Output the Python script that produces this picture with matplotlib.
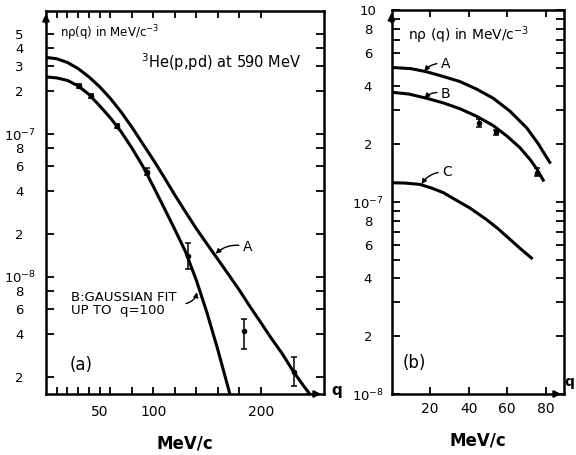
import matplotlib
matplotlib.use("Agg")
import matplotlib.pyplot as plt
from matplotlib.ticker import FixedLocator, NullLocator

plt.rcParams['font.family'] = ['DejaVu Sans']
plt.rcParams['mathtext.default'] = 'regular'

# ---- panel (a): 3He(p,pd) at 590 MeV ----
qa_A = [0, 10, 20, 30, 40, 50, 60, 70, 80, 90, 100, 110, 120, 130, 140, 150,
        160, 170, 180, 190, 200, 210, 220, 230, 240, 246]
va_A = [3.45e-7, 3.38e-7, 3.18e-7, 2.88e-7, 2.52e-7, 2.15e-7, 1.78e-7, 1.43e-7,
        1.12e-7, 8.6e-8, 6.6e-8, 5.0e-8, 3.75e-8, 2.85e-8, 2.18e-8, 1.7e-8,
        1.33e-8, 1.04e-8, 8.1e-9, 6.2e-9, 4.8e-9, 3.7e-9, 2.9e-9, 2.2e-9, 1.72e-9, 1.5e-9]

qa_B = [0, 10, 20, 30, 40, 50, 60, 70, 80, 90, 100, 110, 120, 130, 140, 150, 160, 171.4]
va_B = [2.52e-7, 2.48e-7, 2.38e-7, 2.18e-7, 1.9e-7, 1.58e-7, 1.3e-7, 1.04e-7, 8.0e-8,
        6.0e-8, 4.3e-8, 3.05e-8, 2.15e-8, 1.5e-8, 9.5e-9, 5.6e-9, 3.1e-9, 1.5e-9]

qa_pts = [30.7, 41.6, 66.4, 93.8, 132.5, 184.4, 231.3]
va_pts = [2.17e-7, 1.85e-7, 1.14e-7, 5.45e-8, 1.4e-8, 4.15e-9, 2.17e-9]
va_lo = [2.10e-7, 1.80e-7, 1.10e-7, 5.15e-8, 1.14e-8, 3.1e-9, 1.71e-9]
va_hi = [2.25e-7, 1.90e-7, 1.18e-7, 5.80e-8, 1.73e-8, 5.03e-9, 2.74e-9]

# ---- panel (b) ----
qb_A = [0, 10, 18.2, 27, 35.5, 44, 52.8, 61.5, 70.2, 76, 82.1]
vb_A = [5.02e-7, 4.95e-7, 4.77e-7, 4.5e-7, 4.24e-7, 3.88e-7, 3.47e-7, 2.97e-7,
        2.43e-7, 2.02e-7, 1.61e-7]
qb_B = [0, 9, 18.2, 27, 35.5, 44, 52.8, 60, 66.6, 72, 75.5, 78.7]
vb_B = [3.73e-7, 3.65e-7, 3.47e-7, 3.28e-7, 3.06e-7, 2.8e-7, 2.5e-7, 2.2e-7,
        1.92e-7, 1.66e-7, 1.48e-7, 1.3e-7]
qb_C = [0, 7, 14.8, 21, 26.8, 33, 40.7, 49.3, 55, 61.4, 67, 72.6]
vb_C = [1.26e-7, 1.255e-7, 1.235e-7, 1.18e-7, 1.12e-7, 1.03e-7, 9.3e-8, 8.1e-8,
        7.3e-8, 6.4e-8, 5.7e-8, 5.11e-8]

qb_pts = [45.3, 54.1, 75.5]
vb_pts = [2.57e-7, 2.31e-7, 1.42e-7]
vb_lo = [2.45e-7, 2.24e-7, 1.36e-7]
vb_hi = [2.72e-7, 2.38e-7, 1.51e-7]

a_yticks = [2e-9, 4e-9, 6e-9, 8e-9, 1e-8, 2e-8, 4e-8, 6e-8, 8e-8, 1e-7, 2e-7, 3e-7, 4e-7, 5e-7]
a_ylabels = ['2', '4', '6', '8', r'$10^{-8}$', '2', '4', '6', '8', r'$10^{-7}$', '2', '3', '4', '5']
a_xticks = [10, 20, 30, 40, 50, 60, 80, 100, 120, 140, 160, 180, 200]
a_xlabels = ['', '', '', '', '50', '', '', '100', '', '', '', '', '200']

b_yticks = [1e-8, 2e-8, 3e-8, 4e-8, 5e-8, 6e-8, 7e-8, 8e-8, 9e-8, 1e-7,
            2e-7, 3e-7, 4e-7, 5e-7, 6e-7, 7e-7, 8e-7, 9e-7, 1e-6]
b_ylabels = [r'$10^{-8}$', '2', '', '4', '', '6', '', '8', '', r'$10^{-7}$',
             '2', '', '4', '', '6', '', '8', '', '10']
b_xticks = [20, 40, 60, 80]

fig = plt.figure(figsize=(5.76, 4.55), dpi=100)
ax1 = fig.add_axes([46 / 576, 61 / 455, 278 / 576, 383 / 455])
ax2 = fig.add_axes([391.5 / 576, 61 / 455, 172.5 / 576, 384 / 455])

lw = 2.2
ax1.plot(qa_A, va_A, color='black', lw=lw)
ax1.plot(qa_B, va_B, color='black', lw=lw)
ax1.errorbar(qa_pts, va_pts,
             yerr=[[v - l for v, l in zip(va_pts, va_lo)], [h - v for v, h in zip(va_pts, va_hi)]],
             fmt='o', ms=3, color='black', ecolor='black', elinewidth=1.1, capsize=2.5, capthick=1.1)

ax2.plot(qb_A, vb_A, color='black', lw=lw)
ax2.plot(qb_B, vb_B, color='black', lw=lw)
ax2.plot(qb_C, vb_C, color='black', lw=lw)
ax2.errorbar(qb_pts, vb_pts,
             yerr=[[v - l for v, l in zip(vb_pts, vb_lo)], [h - v for v, h in zip(vb_pts, vb_hi)]],
             fmt='o', ms=3, color='black', ecolor='black', elinewidth=1.1, capsize=2.5, capthick=1.1)

for ax in (ax1, ax2):
    ax.set_yscale('log')
    for s in ax.spines.values():
        s.set_linewidth(1.8)
    ax.tick_params(which='both', direction='in', top=True, right=True, width=1.3)
    ax.yaxis.set_minor_locator(NullLocator())
    ax.xaxis.set_minor_locator(NullLocator())
    # axis arrows
    ax.annotate('', xy=(0, 1.0), xytext=(0, 0.96), xycoords='axes fraction',
                arrowprops=dict(arrowstyle='-|>', color='black', lw=1.5, mutation_scale=10))
    ax.annotate('', xy=(1.0, 0), xytext=(0.93, 0), xycoords='axes fraction',
                arrowprops=dict(arrowstyle='-|>', color='black', lw=1.5, mutation_scale=10))
    ax.set_xlabel('MeV/c', fontsize=12, fontweight='bold', labelpad=11)

ax1.set_xlim(0, 259)
ax1.set_ylim(1.51e-9, 7.3e-7)
ax1.yaxis.set_major_locator(FixedLocator(a_yticks))
ax1.set_yticklabels(a_ylabels, ha='center')
ax1.xaxis.set_major_locator(FixedLocator(a_xticks))
ax1.set_xticklabels(a_xlabels)
ax1.tick_params(axis='y', length=6, labelsize=9.5, pad=19)
ax1.tick_params(axis='x', length=5, labelsize=10, pad=8)

ax2.set_xlim(0, 89.5)
ax2.set_ylim(1e-8, 1e-6)
ax2.yaxis.set_major_locator(FixedLocator(b_yticks))
ax2.set_yticklabels(b_ylabels, ha='center')
ax2.xaxis.set_major_locator(FixedLocator(b_xticks))
ax2.tick_params(axis='y', length=6, labelsize=9.5, pad=17)
ax2.tick_params(axis='x', length=5, labelsize=10, pad=6)

# panel (a) texts
ax1.text(0.05, 0.943, r'n$\rho$(q) in MeV/c$^{-3}$', transform=ax1.transAxes,
         fontsize=8.5, va='center', ha='left')
ax1.text(0.342, 0.867, r'$^3$He(p,pd) at 590 MeV', transform=ax1.transAxes,
         fontsize=10.5, va='center', ha='left')
ax1.text(0.086, 0.076, '(a)', transform=ax1.transAxes, fontsize=12, va='center', ha='left')
ax1.text(0.09, 0.253, 'B:GAUSSIAN FIT', transform=ax1.transAxes, fontsize=9.5, va='center', ha='left')
ax1.text(0.09, 0.219, 'UP TO  q=100', transform=ax1.transAxes, fontsize=9.5, va='center', ha='left')
ax1.annotate('A', xy=(158, 1.45e-8), xytext=(183.5, 1.61e-8), fontsize=10, va='center', ha='left',
             arrowprops=dict(arrowstyle='-|>', color='black', lw=1.0, mutation_scale=7,
                             connectionstyle='arc3,rad=0.3', shrinkA=1, shrinkB=0))
ax1.annotate('', xy=(140.7, 7.8e-9), xytext=(130.4, 6.5e-9),
             arrowprops=dict(arrowstyle='-|>', color='black', lw=1.0, mutation_scale=7,
                             connectionstyle='arc3,rad=0.3', shrinkA=0, shrinkB=0))
ax1.text(1.028, 0.01, 'q', transform=ax1.transAxes, fontsize=11, fontweight='bold',
         va='center', ha='left')

# panel (b) texts
ax2.text(0.096, 0.935, r'n$\rho$ (q) in MeV/c$^{-3}$', transform=ax2.transAxes,
         fontsize=10, va='center', ha='left')
ax2.text(0.066, 0.0815, '(b)', transform=ax2.transAxes, fontsize=12, va='center', ha='left')
for lab, tip, txt in [('A', (17, 4.8e-7), (25.7, 5.23e-7)),
                      ('B', (17, 3.48e-7), (25.7, 3.65e-7)),
                      ('C', (15.6, 1.24e-7), (26.4, 1.43e-7))]:
    ax2.annotate(lab, xy=tip, xytext=txt, fontsize=10, va='center', ha='left',
                 arrowprops=dict(arrowstyle='-|>', color='black', lw=1.0, mutation_scale=7,
                                 connectionstyle='arc3,rad=0.3', shrinkA=1, shrinkB=0))
ax2.text(1.004, 0.03, 'q', transform=ax2.transAxes, fontsize=10, fontweight='bold',
         va='center', ha='left')

fig.savefig('out.png', dpi=100)
